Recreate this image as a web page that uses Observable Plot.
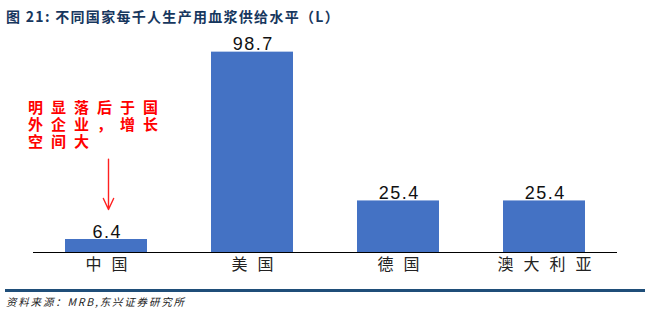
<!DOCTYPE html>
<html><head><meta charset="utf-8">
<script src="https://cdn.jsdelivr.net/npm/d3@7"></script>
<script src="https://cdn.jsdelivr.net/npm/@observablehq/plot@0.6"></script>
<style>
body{margin:0;background:#fff;width:652px;height:310px;overflow:hidden;font-family:"Noto Sans CJK SC","Liberation Sans",sans-serif;}
#title{height:30px;line-height:32px;padding-left:6px;font-size:14px;font-weight:bold;color:#17375e;letter-spacing:1.3px;}
#chart{height:250px;}
#rule{margin:9px 7px 0 5px;border-top:3px solid #1f4e79;}
#src{padding-left:6px;font-size:10.5px;font-style:italic;color:#222;margin-top:2px;letter-spacing:1.8px;}
</style></head>
<body>
<div id="title">图 21: 不同国家每千人生产用血浆供给水平（L）</div>
<div id="chart"></div>
<div id="rule"></div>
<div id="src">资料来源：MRB,东兴证券研究所</div>
<script>
const countries = ["中国", "美国", "德国", "澳大利亚"];
const values = [6.4, 98.7, 25.4, 25.4];
const note = "明显落后于国\n外企业，增长\n空间大";
const data = countries.map((c, i) => ({country: c, value: values[i]}));

const chart = Plot.plot({
  width: 652, height: 250,
  marginLeft: 33, marginRight: 35, marginTop: 19, marginBottom: 28,
  style: {fontFamily: '"Noto Sans CJK SC", sans-serif', background: "#fff"},
  x: {domain: countries, paddingInner: 0.44, paddingOuter: 0.22, label: null},
  y: {domain: [0, 100], axis: null},
  marks: [
    Plot.barY(data, {x: "country", y: "value", fill: "#4472c4"}),
    Plot.ruleY([0], {stroke: "#000", strokeWidth: 1.2}),
    Plot.text(data, {x: "country", y: "value", text: d => d.value.toFixed(1), lineAnchor: "bottom", dy: -2, dx: 0.75, fontSize: 18, fill: "#111", fontFamily: '"Liberation Sans", Arial, sans-serif', ariaLabel: () => "value"}),
    Plot.axisX({tickSize: 0, tickPadding: 6, fontSize: 16, fill: "#222", dx: 5}),
    Plot.text([{country: "中国", y: 63}], {x: "country", y: "y", text: () => note, textAnchor: "start", dx: -78.5, lineAnchor: "middle", lineHeight: 1.12, fontSize: 15, fontWeight: "bold", fill: "#ff0000", ariaLabel: () => "note"}),
    Plot.arrow([{country: "中国", y1: 46, y2: 21.2}], {x: "country", y1: "y1", y2: "y2", dx: 2, stroke: "#ff2020", strokeWidth: 1.4, headLength: 13, headAngle: 50})
  ]
});
document.getElementById("chart").appendChild(chart);
const sel = d3.select(chart);
sel.selectAll('g[aria-label="x-axis tick label"] text').style("letter-spacing", "10px");
sel.selectAll('[aria-label="note"]').style("letter-spacing", "8px");
sel.selectAll('[aria-label="value"]').style("letter-spacing", "1.5px");
</script>
</body></html>
